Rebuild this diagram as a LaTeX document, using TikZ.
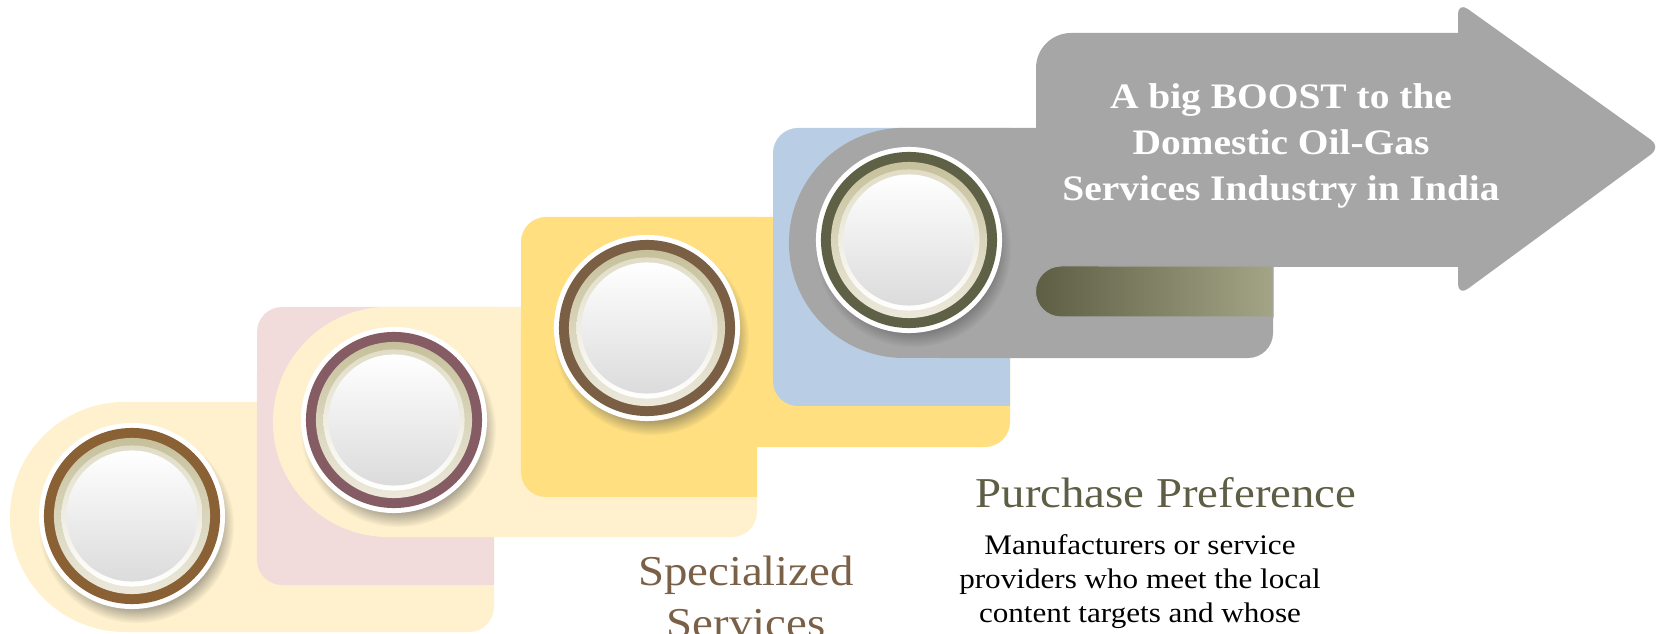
\documentclass[tikz,border=0pt]{standalone}
\usepackage{fontspec}
\setmainfont{Liberation Serif}[FakeStretch=1.1]
\usetikzlibrary{shadows,fadings}

\definecolor{creamfill}{HTML}{FFF1CD}
\definecolor{pinkfill}{HTML}{F2DCDB}
\definecolor{goldfill}{HTML}{FFDF80}
\definecolor{bluefill}{HTML}{B9CDE5}
\definecolor{arrowgray}{HTML}{A6A6A6}
\definecolor{ringA}{HTML}{8A6035}
\definecolor{ringB}{HTML}{855C63}
\definecolor{ringC}{HTML}{7A5F44}
\definecolor{ringD}{HTML}{5F6146}
\definecolor{beigedark}{HTML}{C6C09B}
\definecolor{beigemid}{HTML}{E0DCC6}
\definecolor{beigelight}{HTML}{ECE9DB}
\definecolor{barleft}{HTML}{5E5E45}
\definecolor{barright}{HTML}{A4A486}
\definecolor{headcol}{HTML}{5E5E45}
\definecolor{servcol}{HTML}{7A6046}

% pill: colour, left x, bottom y, right x (height 230)
\newcommand{\pill}[4]{%
  \fill[#1] ({#2+115},#3) arc[start angle=270,end angle=90,radius=1.15cm]
    -- (#4,{#3+230}) -- (#4,{#3+25}) arc[start angle=0,end angle=-90,radius=0.25cm] -- cycle;}
% corner block, rounded on the left: colour, x1, y1, x2, y2
\newcommand{\corner}[5]{%
  \fill[#1] (#4,#3) -- ({#2+25},#3) arc[start angle=270,end angle=180,radius=0.25cm]
    -- (#2,{#5-25}) arc[start angle=180,end angle=90,radius=0.25cm] -- (#4,#5) -- cycle;}
% button: centre, ring colour
\newcommand{\button}[2]{%
  \fill[white, circular drop shadow={shadow xshift=0.4mm, shadow yshift=-0.9mm, shadow scale=1.05, opacity=0.45, fill=black!70}] (#1) circle[radius=0.93cm];
  \fill[#2] (#1) circle[radius=0.88cm];
  \shade[top color=beigedark, bottom color=beigelight] (#1) circle[radius=0.78cm];
  \shade[top color=beigemid, bottom color=white] (#1) circle[radius=0.705cm];
  \shade[top color=white, middle color=black!5, bottom color=black!14] (#1) circle[radius=0.655cm];}

\begin{document}
\begin{tikzpicture}[x=0.01cm, y=0.01cm,
  titletext/.style={align=center, inner sep=0pt, text=white, font=\fontsize{10.2}{13.1}\selectfont\bfseries},
  headtext/.style={align=center, inner sep=0pt, font=\fontsize{12.1}{14.8}\selectfont},
  bodytext/.style={align=center, inner sep=0pt, font=\fontsize{8.05}{9.67}\selectfont}]

  \useasboundingbox (0,0) rectangle (1657,633);

  \coordinate (b1) at (132,117);
  \coordinate (b2) at (394,213);
  \coordinate (b3) at (647,305);
  \coordinate (b4) at (909,393);

  % step 1
  \pill{creamfill}{10}{1}{494}
  \button{b1}{ringA}
  % step 2
  \corner{pinkfill}{257}{48}{494}{326}
  \pill{creamfill}{273}{96}{757}
  \button{b2}{ringB}
  % step 3
  \corner{goldfill}{521}{136}{757}{416}
  \pill{goldfill}{526}{186}{1010}
  \button{b3}{ringC}
  % step 4 and the arrow
  \corner{bluefill}{773}{227}{1010}{505}
  \pill{arrowgray}{789}{275}{1273}
  \fill[arrowgray, rounded corners=3.5mm] (1036,366) rectangle (1500,600);
  \fill[arrowgray, rounded corners=1.2mm] (1458,631) -- (1661,486) -- (1458,337) -- cycle;
  \button{b4}{ringD}
  \shade[left color=barleft, right color=barright, draw=black!35, line width=0.3pt]
    (1061,316) arc[start angle=270,end angle=90,radius=0.255cm] -- (1273,367) -- (1273,316) -- cycle;

  \node[titletext, anchor=north] (boost) at (1281,550) {A big BOOST to the\\Domestic Oil-Gas\\Services Industry in India};
  \node[headtext, text=headcol, anchor=base] (purchase) at (1166,126) {Purchase Preference};
  \node[bodytext, anchor=north] (purchasetext) at (1140,99) {Manufacturers or service\\providers who meet the local\\content targets and whose};
  \node[headtext, text=servcol, anchor=north] (special) at (746,78) {Specialized\\Services};

\end{tikzpicture}
\end{document}
